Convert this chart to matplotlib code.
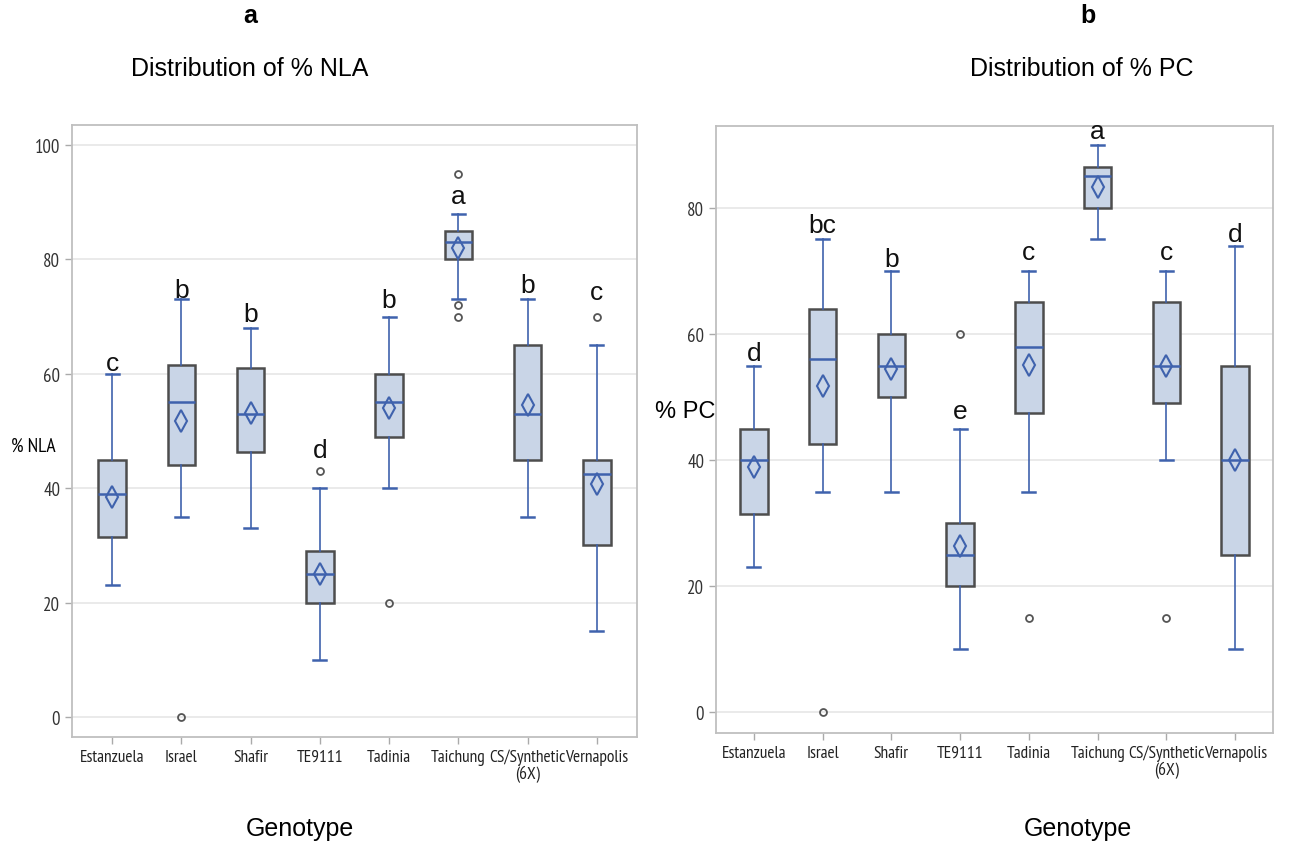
import matplotlib
matplotlib.use("Agg")
import matplotlib.pyplot as plt
from matplotlib import font_manager

# pick a narrow face for the SAS-style tick labels
names = set(f.name for f in font_manager.fontManager.ttflist)
narrow = "DejaVu Sans"
for cand in ["Liberation Sans Narrow", "Arial Narrow", "PT Sans Narrow", "Archivo Narrow",
             "Roboto Condensed", "Barlow Condensed"]:
    if cand in names:
        narrow = cand
        break
plain = "Liberation Sans"

genotypes = ["Estanzuela", "Israel", "Shafir", "TE9111", "Tadinia", "Taichung",
             "CS/Synthetic\n(6X)", "Vernapolis"]

# % NLA
nla_lo = [23, 35, 33, 10, 40, 73, 35, 15]
nla_q1 = [31.5, 44, 46.3, 20, 49, 80, 45, 30]
nla_med = [39, 55, 53, 25, 55, 83, 53, 42.5]
nla_q3 = [45, 61.5, 61, 29, 60, 85, 65, 45]
nla_hi = [60, 73, 68, 40, 70, 88, 73, 65]
nla_mean = [38.5, 51.7, 53.2, 25, 54, 82, 54.5, 40.7]
nla_out = [[], [0], [], [43], [20], [95, 72, 70], [], [70]]
nla_letters = ["c", "b", "b", "d", "b", "a", "b", "c"]
nla_letter_y = [60.6, 73.4, 69.2, 45.5, 71.7, 89.9, 74.3, 73.1]

# % PC
pc_lo = [23, 35, 35, 10, 35, 75, 40, 10]
pc_q1 = [31.5, 42.5, 50, 20, 47.5, 80, 49, 25]
pc_med = [40, 56, 55, 25, 58, 85, 55, 40]
pc_q3 = [45, 64, 60, 30, 65, 86.5, 65, 55]
pc_hi = [55, 75, 70, 45, 70, 90, 70, 74]
pc_mean = [38.9, 51.8, 54.4, 26.4, 55.1, 83.3, 55, 40]
pc_out = [[], [0], [], [60], [15], [], [15], []]
pc_letters = ["d", "bc", "b", "e", "c", "a", "c", "d"]
pc_letter_y = [55.8, 76.2, 70.8, 46.7, 71.9, 91.1, 71.9, 74.8]

box_fill = "#c9d5e7"
box_edge = "#4d4d4d"
blue = "#3f62ad"


def panel(ax, lo, q1, med, q3, hi, mean, out, letters, letter_y, yticks, ylim, xlim):
    stats = []
    for i in range(len(genotypes)):
        stats.append(dict(whislo=lo[i], q1=q1[i], med=med[i], q3=q3[i], whishi=hi[i],
                          mean=mean[i], fliers=out[i]))
    ax.bxp(stats, positions=range(len(genotypes)), widths=0.4, capwidths=0.19,
           patch_artist=True, showmeans=True,
           boxprops=dict(facecolor=box_fill, edgecolor=box_edge, linewidth=1.8),
           medianprops=dict(color=blue, linewidth=1.8),
           whiskerprops=dict(color=blue, linewidth=1.2),
           capprops=dict(color=blue, linewidth=1.8),
           meanprops=dict(marker="d", markersize=11, markerfacecolor="none",
                          markeredgecolor=blue, markeredgewidth=1.5),
           flierprops=dict(marker="o", markersize=5, markerfacecolor="none",
                           markeredgecolor="#555555", markeredgewidth=1.3))
    for i, t in enumerate(letters):
        ax.text(i, letter_y[i], t, ha="center", va="baseline", fontsize=19,
                family=plain, color="#111111")
    ax.set_xlim(xlim)
    ax.set_ylim(ylim)
    ax.set_yticks(yticks)
    ax.set_xticks(range(len(genotypes)))
    ax.set_xticklabels(genotypes, family=narrow, fontsize=12.5, color="#222222",
                       linespacing=1.0)
    for lab in ax.get_yticklabels():
        lab.set_family(narrow)
        lab.set_fontsize(13.5)
        lab.set_color("#333333")
    ax.grid(axis="y", color="#e6e6e6", linewidth=1.2)
    ax.set_axisbelow(True)
    ax.tick_params(axis="both", length=5, color="#aaaaaa", width=1)
    for s in ax.spines.values():
        s.set_color("#bfbfbf")
        s.set_linewidth(1.3)


fig = plt.figure(figsize=(13.08, 8.45), dpi=100)
W, H = 1308, 845

ax1 = fig.add_axes([72 / W, 1 - 738 / H, (637 - 72) / W, (738 - 126) / H])
panel(ax1, nla_lo, nla_q1, nla_med, nla_q3, nla_hi, nla_mean, nla_out,
      nla_letters, nla_letter_y, [0, 20, 40, 60, 80, 100], (-3.5, 103.5), (-0.58, 7.58))

ax2 = fig.add_axes([716 / W, 1 - 734 / H, (1273 - 716) / W, (734 - 127) / H])
panel(ax2, pc_lo, pc_q1, pc_med, pc_q3, pc_hi, pc_mean, pc_out,
      pc_letters, pc_letter_y, [0, 20, 40, 60, 80], (-3.3, 93.0), (-0.55, 7.55))

fig.text(250 / W, 1 - 16 / H, "a", ha="center", va="center", fontsize=18,
         fontweight="bold", family=plain)
fig.text(250 / W, 1 - 69 / H, "Distribution of % NLA", ha="center", va="center",
         fontsize=18, family=plain)
fig.text(1088 / W, 1 - 16 / H, "b", ha="center", va="center", fontsize=18,
         fontweight="bold", family=plain)
fig.text(1082 / W, 1 - 69 / H, "Distribution of % PC", ha="center", va="center",
         fontsize=18, family=plain)
fig.text(300 / W, 1 - 829 / H, "Genotype", ha="center", va="center", fontsize=18,
         family=plain)
fig.text(1078 / W, 1 - 829 / H, "Genotype", ha="center", va="center", fontsize=18,
         family=plain)
fig.text(33 / W, 1 - 447 / H, "% NLA", ha="center", va="center", fontsize=14,
         family=narrow)
fig.text(685 / W, 1 - 412 / H, "% PC", ha="center", va="center", fontsize=17,
         family=plain)

fig.savefig("out.png", dpi=100)
